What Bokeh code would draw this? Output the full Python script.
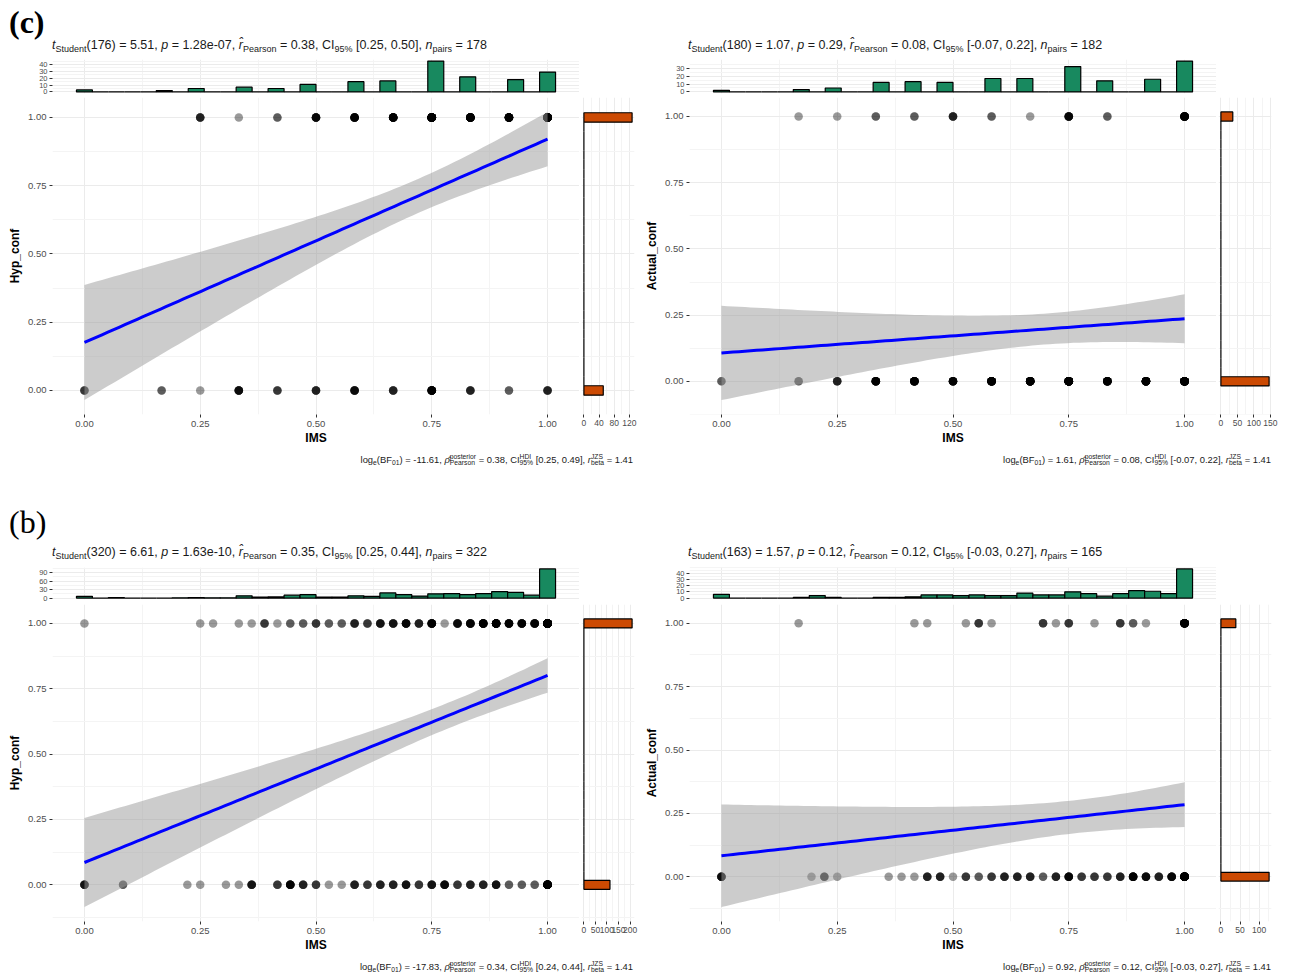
import numpy as np
from bokeh.plotting import figure
from bokeh.layouts import column, row
from bokeh.models import Div, Spacer, FixedTicker, Range1d, PrintfTickFormatter
from bokeh.embed import file_html
from bokeh.resources import INLINE

# ---------------- data ----------------
# Panel (c): IMS in twelfths; counts of observations with conf = 1 and conf = 0 at each IMS level
c_left_ims = [0, 2, 3, 4, 5, 6, 7, 8, 9, 10, 11, 12]
c_left_conf1 = [0, 0, 4, 1, 2, 7, 9, 12, 33, 18, 16, 25]
c_left_conf0 = [3, 2, 1, 6, 3, 4, 6, 4, 12, 4, 2, 4]

c_right_ims = [0, 2, 3, 4, 5, 6, 7, 8, 9, 10, 11, 12]
c_right_conf1 = [0, 1, 1, 2, 2, 4, 2, 1, 7, 2, 0, 14]
c_right_conf0 = [2, 2, 4, 10, 11, 8, 15, 16, 25, 12, 16, 25]

# Panel (b): IMS in thirty-sixths
b_left_ims = [0, 3, 8, 9, 10, 11, 12, 13, 14, 15, 16, 17, 18, 19, 20, 21, 22, 23, 24,
              25, 26, 27, 28, 29, 30, 31, 32, 33, 34, 35, 36]
b_left_conf1 = [1, 0, 0, 1, 1, 0, 1, 1, 3, 1, 2, 2, 3, 2, 2, 4, 3, 5, 5,
                7, 4, 10, 1, 6, 8, 12, 18, 8, 8, 8, 82]
b_left_conf0 = [5, 2, 1, 1, 0, 1, 1, 5, 0, 3, 8, 4, 3, 1, 1, 4, 3, 4, 4,
                5, 3, 5, 6, 3, 4, 4, 5, 2, 2, 2, 21]

b_right_ims = [0, 6, 7, 8, 9, 13, 14, 15, 16, 17, 18, 19, 20, 21, 22, 23, 24,
               25, 26, 27, 28, 29, 30, 31, 32, 33, 34, 35, 36]
b_right_conf1 = [0, 1, 0, 0, 0, 0, 0, 1, 1, 0, 0, 1, 3, 1, 0, 0, 0,
                 3, 1, 3, 0, 1, 0, 3, 2, 1, 0, 0, 17]
b_right_conf0 = [6, 0, 1, 3, 1, 1, 1, 1, 4, 4, 1, 3, 2, 3, 4, 4, 4,
                 2, 4, 7, 3, 3, 3, 4, 10, 6, 4, 7, 30]

# tick labels
main_ticks = [0.0, 0.25, 0.5, 0.75, 1.0]
c_left_top_ticks = [0, 10, 20, 30, 40]
c_right_top_ticks = [0, 10, 20, 30]
b_left_top_ticks = [0, 30, 60, 90]
b_right_top_ticks = [0, 10, 20, 30, 40, 50]
c_left_side_ticks = [0, 40, 80, 120]
c_right_side_ticks = [0, 50, 100, 150]
b_left_side_ticks = [0, 50, 100, 150, 200]
b_right_side_ticks = [0, 50, 100]

# statistics text: (df, t, p, r, CI, n) and (logBF, rho, CI_HDI, r_beta)
c_left_stats = ["176", "5.51", "1.28e-07", "0.38", "[0.25, 0.50]", "178"]
c_left_bayes = ["-11.61", "0.38", "[0.25, 0.49]", "1.41"]
c_right_stats = ["180", "1.07", "0.29", "0.08", "[-0.07, 0.22]", "182"]
c_right_bayes = ["1.61", "0.08", "[-0.07, 0.22]", "1.41"]
b_left_stats = ["320", "6.61", "1.63e-10", "0.35", "[0.25, 0.44]", "322"]
b_left_bayes = ["-17.83", "0.34", "[0.24, 0.44]", "1.41"]
b_right_stats = ["163", "1.57", "0.12", "0.12", "[-0.03, 0.27]", "165"]
b_right_bayes = ["0.92", "0.12", "[-0.03, 0.27]", "1.41"]

# ---------------- styling ----------------
FONT = "Liberation Sans"
GRID = "#EBEBEB"
GRID_MINOR = "#F4F4F4"
GREEN = "#18895F"
ORANGE = "#CC4A03"
FRAME_W = 527
FRAME_H = 318


def sub(s):
    return f'<span style="font-size:0.72em;vertical-align:-0.3em;line-height:0">{s}</span>'


def it(s):
    return f'<i>{s}</i>'


def stack(sup, low):
    return ('<span style="display:inline-block;vertical-align:-0.35em;font-size:0.72em;'
            f'line-height:0.95em;text-align:left">{sup}<br>{low}</span>')


def subtitle_html(st, width, pad_left):
    df, t, p, r, ci, n = st
    txt = (it("t") + sub("Student") + f"({df}) = {t}, " + it("p") + f" = {p}, "
           + it("r&#770;") + sub("Pearson") + f" = {r}, CI" + sub("95%") + f" {ci}, "
           + it("n") + sub("pairs") + f" = {n}")
    return (f'<div style="font-family:\'{FONT}\';font-size:12.5px;line-height:14px;color:#1A1A1A;'
            f'width:{width}px;box-sizing:border-box;padding-top:5px;padding-left:{pad_left}px;'
            f'white-space:nowrap">{txt}</div>')


def caption_html(bs, width, pad_right):
    bf, rho, ci, rb = bs
    txt = ("log" + sub("e") + "(BF" + sub("01") + f") = {bf}, " + it("&rho;&#770;")
           + stack("posterior", "Pearson") + f" = {rho}, CI" + stack("HDI", "95%")
           + f" {ci}, " + it("r") + stack("JZS", "beta") + f" = {rb}")
    return (f'<div style="font-family:\'{FONT}\';font-size:9.4px;line-height:12px;color:#1A1A1A;'
            f'width:{width}px;box-sizing:border-box;padding-top:7px;padding-right:{pad_right}px;'
            f'text-align:right;white-space:nowrap">{txt}</div>')


def minor_of(t):
    step = t[1] - t[0]
    return [t[0] - step / 2] + [(a + b) / 2 for a, b in zip(t[:-1], t[1:])] + [t[-1] + step / 2]


def t975(df):
    z = 1.959963985
    g1 = (z ** 3 + z) / 4
    g2 = (5 * z ** 5 + 16 * z ** 3 + 3 * z) / 96
    g3 = (3 * z ** 7 + 19 * z ** 5 + 17 * z ** 3 - 15 * z) / 384
    return z + g1 / df + g2 / df ** 2 + g3 / df ** 3


def bins_for(v, nb=30):
    lo, hi = v.min(), v.max()
    w = (hi - lo) / (nb - 1)
    edges = lo - w / 2 + w * np.arange(nb + 1)
    k = np.ceil((v - lo) / w - 0.5 - 1e-7).astype(int)
    k = np.clip(k, 0, nb - 1)
    return edges, np.bincount(k, minlength=nb)


def style_axis(ax, fs):
    ax.axis_line_color = None
    ax.major_tick_line_color = "#333333"
    ax.major_tick_out = 3
    ax.major_tick_in = 0
    ax.minor_tick_line_color = None
    ax.major_label_text_font = FONT
    ax.major_label_text_font_size = fs
    ax.major_label_text_color = "#4D4D4D"
    ax.major_label_standoff = 2


def style_grid(g, ticks):
    g.ticker = FixedTicker(ticks=ticks, minor_ticks=minor_of(ticks))
    g.grid_line_color = GRID
    g.grid_line_width = 1
    g.minor_grid_line_color = GRID_MINOR
    g.minor_grid_line_width = 1


def panel(ims, den, conf1, conf0, ylab, stats, bayes, top_ticks, side_ticks,
          left_b, side_w, sub_pad_left, cap_pad_right, top_b, top_frame, mid_b, cap_h):
    lev = np.array(ims, dtype=float) / den
    x = np.concatenate([np.repeat(lev, conf1), np.repeat(lev, conf0)])
    y = np.concatenate([np.ones(int(np.sum(conf1))), np.zeros(int(np.sum(conf0)))])
    n = len(x)

    # linear fit with 95% confidence band
    xm, ym = x.mean(), y.mean()
    sxx = np.sum((x - xm) ** 2)
    b = np.sum((x - xm) * (y - ym)) / sxx
    a = ym - b * xm
    s = np.sqrt(np.sum((y - a - b * x) ** 2) / (n - 2))
    gx = np.linspace(x.min(), x.max(), 80)
    fit = a + b * gx
    half = t975(n - 2) * s * np.sqrt(1.0 / n + (gx - xm) ** 2 / sxx)
    lo, hi = fit - half, fit + half

    ex, cx = bins_for(x)
    ey, cy = bins_for(y)

    xpad = 0.05 * (ex[-1] - ex[0])
    xr = Range1d(ex[0] - xpad, ex[-1] + xpad)
    ylo, yhi = min(ey[0], lo.min()), max(ey[-1], hi.max())
    ypad = 0.05 * (yhi - ylo)
    yr = Range1d(ylo - ypad, yhi + ypad)

    main_w = left_b + FRAME_W
    main_h = 2 + FRAME_H + 32
    top_h = top_b + top_frame + mid_b

    # main scatter
    p = figure(width=main_w, height=main_h, x_range=xr, y_range=yr, output_backend="svg",
               toolbar_location=None, min_border_left=left_b, min_border_right=0,
               min_border_top=2, min_border_bottom=32)
    p.outline_line_color = None
    for ax in (p.xaxis, p.yaxis):
        style_axis(ax, "9.5px")
        ax.ticker = FixedTicker(ticks=main_ticks, minor_ticks=minor_of(main_ticks))
        ax.formatter = PrintfTickFormatter(format="%.2f")
        ax.axis_label_text_font = FONT
        ax.axis_label_text_font_style = "bold"
        ax.axis_label_text_font_size = "12px"
        ax.axis_label_text_color = "black"
    p.xaxis.axis_label = "IMS"
    p.xaxis.axis_label_standoff = 1
    p.yaxis.axis_label = ylab
    p.yaxis.axis_label_standoff = 3
    style_grid(p.xgrid, main_ticks)
    style_grid(p.ygrid, main_ticks)
    p.scatter(x, y, size=8.5, fill_color="black", fill_alpha=0.4, line_color=None)
    p.varea(x=gx, y1=lo, y2=hi, fill_color="#999999", fill_alpha=0.5)
    p.line(gx, fit, line_color="#0000FF", line_width=3)

    # top marginal histogram
    mtop = cx.max()
    t = figure(width=main_w, height=top_h, x_range=xr, y_range=Range1d(-0.05 * mtop, 1.05 * mtop),
               output_backend="svg", toolbar_location=None, x_axis_location=None,
               min_border_left=left_b, min_border_right=0, min_border_top=top_b, min_border_bottom=mid_b)
    t.outline_line_color = None
    style_axis(t.yaxis, "7.5px")
    t.yaxis.ticker = FixedTicker(ticks=top_ticks)
    style_grid(t.xgrid, main_ticks)
    style_grid(t.ygrid, top_ticks)
    t.quad(left=ex[:-1], right=ex[1:], bottom=0, top=cx, fill_color=GREEN,
           line_color="black", line_width=1.2)

    # side marginal histogram
    mside = cy.max()
    r = figure(width=side_w, height=main_h, x_range=Range1d(-0.05 * mside, 1.05 * mside), y_range=yr,
               output_backend="svg", toolbar_location=None, y_axis_location=None,
               min_border_left=2, min_border_right=side_w - 55, min_border_top=2, min_border_bottom=32)
    r.outline_line_color = None
    style_axis(r.xaxis, "8.5px")
    r.xaxis.ticker = FixedTicker(ticks=side_ticks)
    style_grid(r.xgrid, side_ticks)
    style_grid(r.ygrid, main_ticks)
    r.quad(left=0, right=cy, bottom=ey[:-1], top=ey[1:], fill_color=ORANGE,
           line_color="black", line_width=1.2)

    col_w = main_w + side_w
    sub_div = Div(text=subtitle_html(stats, col_w, sub_pad_left), width=col_w, height=24, margin=0)
    cap_div = Div(text=caption_html(bayes, col_w, cap_pad_right), width=col_w, height=cap_h, margin=0)
    return column(sub_div, row(t, Spacer(width=side_w, height=top_h)), row(p, r), cap_div)


def label_div(txt, h, pad, weight):
    return Div(text=(f'<div style="font-family:\'Liberation Serif\';font-size:32px;font-weight:{weight};'
                     f'line-height:30px;padding-top:{pad}px;padding-left:9px">{txt}</div>'),
               width=1288, height=h, margin=0)


c_row = row(
    panel(c_left_ims, 12, c_left_conf1, c_left_conf0, "Hyp_conf", c_left_stats, c_left_bayes,
          c_left_top_ticks, c_left_side_ticks, 52, 59, 52, 5, 2, 34, 2, 28),
    panel(c_right_ims, 12, c_right_conf1, c_right_conf0, "Actual_conf", c_right_stats, c_right_bayes,
          c_right_top_ticks, c_right_side_ticks, 51, 72, 50, 17, 2, 34, 2, 28),
)
b_row = row(
    panel(b_left_ims, 36, b_left_conf1, b_left_conf0, "Hyp_conf", b_left_stats, b_left_bayes,
          b_left_top_ticks, b_left_side_ticks, 52, 59, 52, 5, 3, 32, 3, 22),
    panel(b_right_ims, 36, b_right_conf1, b_right_conf0, "Actual_conf", b_right_stats, b_right_bayes,
          b_right_top_ticks, b_right_side_ticks, 51, 72, 50, 17, 3, 32, 3, 22),
)

layout = column(label_div("(c)", 33, 7, "bold"), c_row, label_div("(b)", 65, 32, "normal"), b_row)

open("out.html", "w").write(file_html(layout, INLINE))
